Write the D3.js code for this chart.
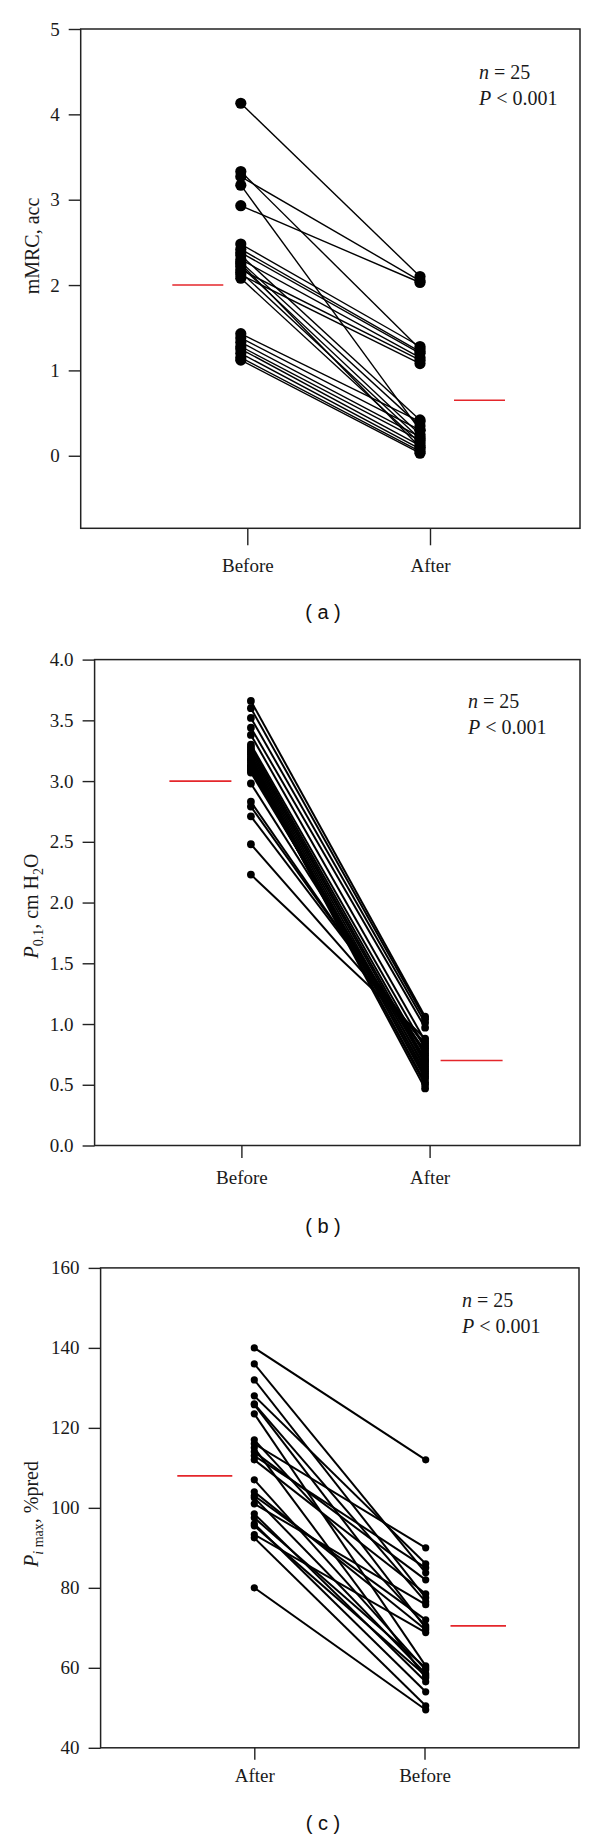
<!DOCTYPE html>
<html>
<head>
<meta charset="utf-8">
<script src="https://cdn.jsdelivr.net/npm/d3@7"></script>
<style>
  body { margin: 0; background: #fff; }
  svg { display: block; }
</style>
</head>
<body>
<svg></svg>
<script>
const width = 600;
const height = 1838;

// (a) mMRC, acc  - one entry per patient, same order in both arrays
const mmrcCats = ['Before', 'After'];
const mmrcBefore = [4.13, 3.33, 3.27, 3.17, 2.93,
  2.48, 2.42, 2.38, 2.35, 2.30, 2.27, 2.22, 2.18, 2.15, 2.12, 2.08, 2.25,
  1.43, 1.38, 1.33, 1.28, 1.25, 1.20, 1.15, 1.12];
const mmrcAfter = [2.10, 1.25, 2.05, 0.30, 2.03,
  1.28, 1.22, 1.20, 0.42, 1.15, 0.35, 0.25, 1.12, 0.20, 1.08, 0.15, 0.10,
  0.40, 0.30, 0.22, 0.18, 0.12, 0.08, 0.05, 0.03];
const mmrcTicks = [0, 1, 2, 3, 4, 5];
const mmrcMarks = [2.0, 0.65];

// (b) P0.1, cm H2O
const p01Cats = ['Before', 'After'];
const p01Before = [3.66, 3.60, 3.52, 3.44, 3.38, 3.30, 3.28, 3.26, 3.24, 3.22,
  3.20, 3.18, 3.17, 3.15, 3.13, 3.12, 3.10, 3.09, 3.07, 2.98, 2.83, 2.79, 2.71, 2.48, 2.23];
const p01After = [1.06, 1.04, 1.01, 0.97, 0.86, 0.80, 0.74, 0.70, 0.67, 0.63,
  0.59, 0.55, 0.50, 0.47, 0.52, 0.57, 0.61, 0.65, 0.69, 0.72, 0.76, 0.78, 0.82, 0.84, 0.88];
const p01Ticks = [0, 0.5, 1, 1.5, 2, 2.5, 3, 3.5, 4];
const p01Marks = [3.0, 0.70];

// (c) Pi max, %pred  (axis order as printed: After, Before)
const pimaxCats = ['After', 'Before'];
const pimaxLeft = [140, 136, 132, 128, 126, 125.8, 123.5, 117, 116, 115, 114, 113, 112,
  107, 104, 103, 102.5, 101, 98.5, 97.5, 96, 95.5, 93.3, 92.5, 80];
const pimaxRight = [112, 83.75, 77.5, 86, 76.5, 70, 60.5, 70.5, 90, 57.5, 82, 85, 78.5,
  59.5, 69.5, 72, 58.5, 75.8, 56.5, 60, 54, 58, 68.8, 50.5, 49.5];
const pimaxTicks = [40, 60, 80, 100, 120, 140, 160];
const pimaxMarks = [108, 70.5];

const serif = '"Liberation Serif", "DejaVu Serif", serif';
const sans = '"Liberation Sans", Arial, sans-serif';

const svg = d3.select('svg').attr('width', width).attr('height', height);

drawPanel({
  cats: mmrcCats, v0: mmrcBefore, v1: mmrcAfter, ticks: mmrcTicks, marks: mmrcMarks,
  domain: [-0.85, 5], fmt: d3.format('d'),
  left: 80.7, right: 580, top: 29, bottom: 528.3,
  tickX: [247.3, 430], dotShift: [-6.5, -10], r: 5.6, lw: 1.4,
  xTick: 17, xPad: 13,
  markL: [-75, -24], markR: [24, 75],
  note: [479, 79], title: [{t: 'mMRC, acc'}], titlePos: [38.5, 246],
  label: '( a )', labelY: 619
});

drawPanel({
  cats: p01Cats, v0: p01Before, v1: p01After, ticks: p01Ticks, marks: p01Marks,
  domain: [0, 4], fmt: d3.format('.1f'),
  left: 94.6, right: 580, top: 659.6, bottom: 1145.5,
  tickX: [241.4, 429.6], dotShift: [9.5, -4.5], r: 3.9, lw: 2,
  xTick: 12.5, xPad: 12.5,
  markL: [-72, -10], markR: [11, 73],
  note: [468, 708],
  title: [{t: 'P', it: true}, {t: '0.1', sub: true}, {t: ', cm H'}, {t: '2', sub: true}, {t: 'O'}],
  titlePos: [37.5, 906],
  label: '( b )', labelY: 1233
});

drawPanel({
  cats: pimaxCats, v0: pimaxLeft, v1: pimaxRight, ticks: pimaxTicks, marks: pimaxMarks,
  domain: [40, 160], fmt: d3.format('d'),
  left: 100.6, right: 579, top: 1267.9, bottom: 1747.8,
  tickX: [254.3, 424.5], dotShift: [0, 1.2], r: 3.6, lw: 2,
  xTick: 12, xPad: 8.7,
  markL: [-77, -22], markR: [26, 81.5],
  note: [462, 1307],
  title: [{t: 'P', it: true}, {t: 'i', it: true, sub: true}, {t: ' max', sub: true}, {t: ', %pred'}],
  titlePos: [37.5, 1514],
  label: '( c )', labelY: 1830
});

function drawPanel(c) {
  const g = svg.append('g');
  const y = d3.scaleLinear().domain(c.domain).range([c.bottom, c.top]);
  const x = d3.scalePoint().domain(c.cats).range(c.tickX);
  const px = (k) => x(c.cats[k]) + c.dotShift[k];

  // y axis
  const ya = g.append('g')
      .attr('transform', `translate(${c.left},0)`)
      .call(d3.axisLeft(y).tickValues(c.ticks).tickSize(12).tickPadding(9).tickFormat(c.fmt));
  // x axis
  const xa = g.append('g')
      .attr('transform', `translate(0,${c.bottom})`)
      .call(d3.axisBottom(x).tickSize(c.xTick).tickPadding(c.xPad));
  [ya, xa].forEach(a => {
    a.select('.domain').remove();
    a.selectAll('line').attr('stroke', '#222').attr('stroke-width', 1.4);
    a.selectAll('text').attr('fill', '#1a1a1a')
      .style('font-family', serif).style('font-size', '19px');
  });

  // frame
  g.append('rect')
      .attr('x', c.left).attr('y', c.top)
      .attr('width', c.right - c.left).attr('height', c.bottom - c.top)
      .attr('fill', 'none').attr('stroke', '#222').attr('stroke-width', 1.5);

  // paired lines
  g.append('g').selectAll('line')
    .data(d3.range(c.v0.length))
    .enter().append('line')
      .attr('x1', px(0)).attr('y1', i => y(c.v0[i]))
      .attr('x2', px(1)).attr('y2', i => y(c.v1[i]))
      .attr('stroke', '#000').attr('stroke-width', c.lw);

  // points
  [c.v0, c.v1].forEach((vals, k) => {
    g.append('g').selectAll('circle')
      .data(vals)
      .enter().append('circle')
        .attr('cx', px(k)).attr('cy', d => y(d))
        .attr('r', c.r).attr('fill', '#000');
  });

  // red group markers
  [c.markL, c.markR].forEach((off, k) => {
    g.append('line')
        .attr('x1', x(c.cats[k]) + off[0]).attr('x2', x(c.cats[k]) + off[1])
        .attr('y1', y(c.marks[k])).attr('y2', y(c.marks[k]))
        .attr('stroke', '#e4262b').attr('stroke-width', 1.6);
  });

  // n / P note
  const note = g.append('g').style('font-family', serif).style('font-size', '20px').attr('fill', '#1a1a1a');
  const t1 = note.append('text').attr('x', c.note[0]).attr('y', c.note[1]);
  t1.append('tspan').style('font-style', 'italic').text('n');
  t1.append('tspan').text(' = 25');
  const t2 = note.append('text').attr('x', c.note[0]).attr('y', c.note[1] + 25.5);
  t2.append('tspan').style('font-style', 'italic').text('P');
  t2.append('tspan').text(' < 0.001');

  // y title
  const tt = g.append('text')
      .attr('transform', `translate(${c.titlePos[0]},${c.titlePos[1]}) rotate(-90)`)
      .attr('text-anchor', 'middle')
      .attr('fill', '#1a1a1a')
      .style('font-family', serif).style('font-size', '20px');
  let shifted = false;
  c.title.forEach(p => {
    const s = tt.append('tspan').text(p.t);
    if (p.it) s.style('font-style', 'italic');
    if (p.sub) {
      s.style('font-size', '14px');
      if (!shifted) { s.attr('dy', 5); shifted = true; }
    } else if (shifted) {
      s.attr('dy', -5); shifted = false;
    }
  });

  // panel label
  g.append('text')
      .attr('x', 323).attr('y', c.labelY)
      .attr('text-anchor', 'middle')
      .attr('fill', '#111')
      .style('font-family', sans).style('font-size', '20px')
      .text(c.label);
}
</script>
</body>
</html>
